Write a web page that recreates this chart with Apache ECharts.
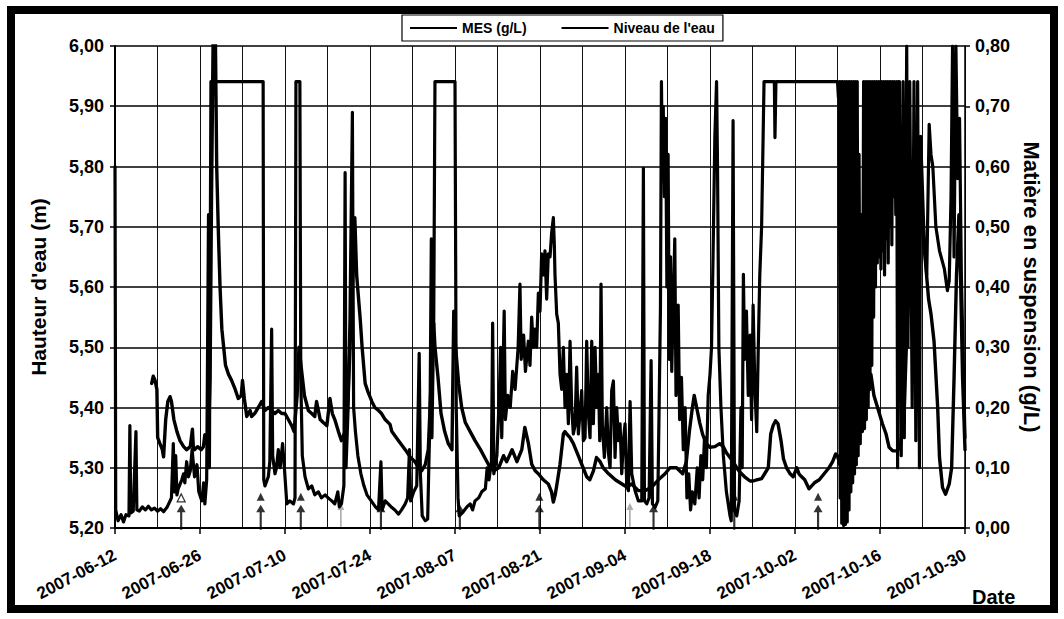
<!DOCTYPE html>
<html>
<head>
<meta charset="utf-8">
<title>MES et niveau de l'eau</title>
<script src="https://cdn.jsdelivr.net/npm/echarts@6/dist/echarts.min.js"></script>
<style>
  html, body { margin: 0; padding: 0; background: #fff; }
  #chart { width: 1064px; height: 619px; }
</style>
</head>
<body>
<div id="chart"></div>
<script>
// x values are days counted from 2007-06-12
const dateTicks = ['2007-06-12', '2007-06-26', '2007-07-10', '2007-07-24', '2007-08-07', '2007-08-21',
                   '2007-09-04', '2007-09-18', '2007-10-02', '2007-10-16', '2007-10-30'];

// Suspended matter, g/L  [day, value]
const mesJune = [[0,0.60],[0.12,0.03],[0.5,0.012],[1.0,0.022],[1.4,0.01],[1.8,0.022],[2.3,0.02],[2.45,0.17],[2.6,0.025],
  [3.0,0.028],[3.45,0.16],[3.6,0.03],[4.0,0.028],[4.5,0.035],[5.0,0.03],[5.5,0.036],[6.0,0.03],[6.5,0.033],[7.0,0.028],
  [7.5,0.032],[8.0,0.027],[8.6,0.035],[9.07,0.045],[9.3,0.05],[9.6,0.14],[9.8,0.06],[10.0,0.12],[10.2,0.055],[10.4,0.065],
  [11.0,0.08],[11.3,0.09],[11.5,0.075],[11.8,0.11],[12.1,0.085],[12.4,0.095],[12.7,0.13],[13.1,0.085],[13.5,0.105],
  [13.8,0.06],[14.3,0.045],[14.6,0.075],[14.8,0.04],[15.1,0.08],[15.4,0.52],[15.55,0.10],[15.8,0.741]];
const mesJuly = [[24.4,0.741],[24.5,0.08],[24.7,0.07],[25.25,0.085],[25.5,0.11],[25.8,0.33],[25.97,0.12],[26.35,0.09],
  [26.6,0.10],[26.9,0.13],[27.2,0.10],[27.6,0.14],[27.9,0.10],[28.3,0.04],[28.8,0.045],[29.4,0.04],[29.65,0.05],
  [29.8,0.741],[30.45,0.741],[30.6,0.25],[30.85,0.12],[31.3,0.085],[31.85,0.065],[32.4,0.07],[32.9,0.055],[33.5,0.06],
  [34.0,0.05],[34.6,0.055],[35.1,0.05],[35.7,0.045],[36.2,0.04],[36.7,0.06],[36.95,0.035],[37.3,0.04],[37.7,0.07],
  [37.9,0.59],[38.05,0.10],[38.4,0.20],[38.7,0.35],[38.9,0.52],[39.1,0.69],[39.3,0.20],[39.6,0.16],[40.0,0.12],
  [40.5,0.09],[41.0,0.07],[41.5,0.055],[42.2,0.045],[42.9,0.035],[43.4,0.03],[43.8,0.11],[44.0,0.03],[44.5,0.045],
  [45.0,0.04],[45.6,0.034],[46.1,0.03],[46.7,0.023],[47.2,0.03],[47.8,0.04],[48.2,0.05],[48.5,0.13],[48.7,0.045]];
const mesAugust = [[49.2,0.06],[49.7,0.07],[50.1,0.29],[50.3,0.09],[50.6,0.02],[51.1,0.012],[51.5,0.015],[51.9,0.20],
  [52.1,0.48],[52.2,0.15],[52.5,0.35],[52.7,0.741],[56.0,0.741],[56.2,0.20],[56.5,0.05],[56.7,0.02],[57.2,0.025],
  [57.96,0.035],[58.5,0.04],[58.9,0.03],[59.3,0.045],[59.9,0.05],[60.4,0.06],[61.0,0.065],[61.3,0.10],[61.6,0.08],
  [62.0,0.11],[62.2,0.34],[62.4,0.09],[62.9,0.12],[63.3,0.22],[63.5,0.30],[63.7,0.15],[64.1,0.36],[64.3,0.18],
  [64.7,0.22],[65.1,0.20],[65.5,0.26],[65.9,0.23],[66.4,0.30],[66.7,0.405],[66.9,0.28],[67.3,0.32],[67.6,0.26],
  [68.08,0.31],[68.35,0.27],[68.63,0.35],[68.9,0.30],[69.18,0.33],[69.45,0.30],[69.73,0.39],[70.0,0.36],[70.27,0.455],
  [70.55,0.42],[70.82,0.46],[71.1,0.38],[71.37,0.455],[71.65,0.45],[71.92,0.49],[72.2,0.515],[72.36,0.47],[72.47,0.42],
  [72.75,0.355],[73.02,0.34],[73.3,0.255],[73.57,0.23],[73.85,0.30],[74.12,0.20],[74.4,0.255],[74.67,0.173],
  [74.95,0.31],[75.22,0.20],[75.49,0.156],[75.77,0.17],[76.04,0.267],[76.32,0.156],[76.87,0.228],[77.14,0.145],
  [77.42,0.15],[77.69,0.31],[77.97,0.19],[78.24,0.15],[78.52,0.31],[78.79,0.173],[79.07,0.30],[79.34,0.20],
  [79.62,0.255],[79.84,0.145],[80.05,0.405],[80.27,0.17],[80.6,0.117]];
const mesSeptember = [[80.99,0.20],[81.26,0.125],[81.54,0.10],[81.81,0.228],[82.09,0.244],[82.36,0.117],[82.64,0.20],
  [82.91,0.145],[83.19,0.173],[83.46,0.09],[83.74,0.145],[84.01,0.173],[84.29,0.07],[84.56,0.062],[84.84,0.21],
  [85.11,0.09],[85.66,0.062],[86.21,0.045],[86.76,0.045],[87.03,0.597],[87.2,0.045],[87.58,0.04],[87.97,0.05],
  [88.3,0.278],[88.52,0.04],[88.96,0.034],[89.4,0.045],[89.62,0.20],[89.84,0.366],[90.0,0.741],[90.15,0.60],
  [90.3,0.70],[90.5,0.55],[90.7,0.68],[90.9,0.40],[91.1,0.62],[91.3,0.28],[91.5,0.45],[91.7,0.26],[91.9,0.35],
  [92.2,0.48],[92.4,0.22],[92.76,0.37],[93.0,0.18],[93.3,0.25],[93.6,0.13],[93.9,0.20],[94.2,0.05],[94.5,0.09],
  [94.8,0.03],[95.1,0.06],[95.5,0.04],[95.9,0.10],[96.2,0.05],[96.5,0.12],[96.8,0.08],[97.1,0.15],[97.4,0.10],
  [97.7,0.22],[98.0,0.255],[98.25,0.30],[98.5,0.45],[98.8,0.65],[99.08,0.741],[99.24,0.60],[99.46,0.30],[99.8,0.20],
  [100.2,0.12],[100.7,0.06],[101.3,0.02],[101.5,0.012],[101.8,0.676],[102.04,0.03],[102.4,0.02],[102.8,0.045],
  [103.1,0.20],[103.3,0.10],[103.5,0.421],[103.7,0.28],[104.0,0.36],[104.3,0.22],[104.6,0.32],[104.85,0.18],
  [105.1,0.37],[105.4,0.23],[105.7,0.16],[105.95,0.30],[106.2,0.42],[106.5,0.50],[106.7,0.62],[106.9,0.741],
  [108.6,0.741],[108.7,0.648],[108.86,0.741]];
const mesOctober = [[119.0,0.741],[119.15,0.715],[119.3,0.741],[119.44,0.05],[119.6,0.741],[119.7,0.008],[119.85,0.741],
  [120.0,0.004],[120.15,0.741],[120.3,0.006],[120.45,0.741],[120.6,0.01],[120.75,0.741],[120.9,0.03],[121.05,0.741],
  [121.2,0.06],[121.35,0.741],[121.5,0.075],[121.65,0.741],[121.8,0.09],[121.95,0.741],[122.1,0.105],[122.25,0.741],
  [122.4,0.12],[122.55,0.62],[122.75,0.14],[122.95,0.52],[123.1,0.16],[123.3,0.741],[123.45,0.165],[123.6,0.741],
  [123.75,0.18],[123.9,0.741],[124.05,0.20],[124.2,0.741],[124.35,0.23],[124.5,0.741],[124.65,0.27],[124.8,0.741],
  [124.95,0.35],[125.1,0.741],[125.25,0.40],[125.4,0.741],[125.55,0.44],[125.7,0.741],[125.85,0.45],[126.0,0.741],
  [126.15,0.43],[126.3,0.741],[126.45,0.46],[126.6,0.741],[126.75,0.42],[126.9,0.741],[127.05,0.48],[127.2,0.741],
  [127.35,0.44],[127.5,0.741],[127.65,0.50],[127.8,0.741],[127.95,0.47],[128.1,0.741],[128.25,0.55],[128.4,0.741],
  [128.6,0.52],[128.75,0.741],[128.9,0.10],[129.05,0.741],[129.2,0.741],[129.5,0.12],[129.8,0.741],[130.0,0.15],
  [130.4,0.80],[130.6,0.30],[130.9,0.741],[131.3,0.20],[131.6,0.741],[131.9,0.145],[132.2,0.741],[132.5,0.10],
  [132.7,0.65],[133.0,0.56],[133.3,0.47],[133.7,0.42],[134.1,0.67],[134.4,0.62],[134.7,0.60],[135.2,0.50],[135.8,0.46],
  [136.6,0.43],[137.1,0.394],[137.4,0.41],[137.7,0.55],[137.95,0.80],[138.2,0.45],[138.5,0.80],[138.8,0.58],
  [139.1,0.68],[139.4,0.42],[139.7,0.28],[140.0,0.15]];

// Water level, m  [day, value]
const levelJune = [[6.04,5.44],[6.3,5.452],[6.6,5.445],[6.9,5.43],[7.03,5.35],[7.4,5.34],[7.8,5.33],[8.0,5.318],
  [8.35,5.38],[8.7,5.41],[9.07,5.418],[9.3,5.41],[9.7,5.38],[10.2,5.36],[10.7,5.345],[11.3,5.335],[11.8,5.33],
  [12.4,5.335],[12.75,5.364],[12.9,5.335],[13.1,5.33],[13.6,5.335],[14.2,5.33],[14.56,5.335],[14.8,5.355],[15.1,5.34],
  [15.4,5.345],[15.66,5.45],[15.9,5.75],[16.2,6.05],[16.5,6.05],[16.75,5.80],[17.0,5.70],[17.3,5.60],[17.6,5.53],
  [17.9,5.50],[18.2,5.47],[18.7,5.455]];
const levelJuly = [[19.2,5.445],[19.8,5.43],[20.3,5.415],[20.8,5.42],[21.0,5.445],[21.3,5.415],[21.7,5.385],
  [22.25,5.395],[22.5,5.385],[23.0,5.39],[23.6,5.40],[24.15,5.41],[24.7,5.395],[25.25,5.40],[25.8,5.395],[26.35,5.39],
  [26.9,5.395],[27.45,5.39],[28.0,5.39],[28.55,5.38],[29.1,5.37],[29.5,5.36],[30.0,5.42],[30.3,5.50],[30.75,5.46],
  [31.2,5.42],[31.85,5.395],[32.4,5.39],[32.9,5.385],[33.2,5.41],[33.8,5.38],[34.3,5.375],[34.9,5.37],[35.4,5.415],
  [35.8,5.39],[36.2,5.38],[36.8,5.36],[37.3,5.345],[37.9,5.36],[38.4,5.42],[38.9,5.55],[39.3,5.65],[39.5,5.715],
  [39.8,5.62],[40.4,5.545],[40.7,5.50],[41.2,5.44],[41.7,5.425],[42.3,5.41],[42.8,5.40],[43.4,5.395],[43.9,5.39],
  [44.5,5.38],[45.3,5.372],[45.6,5.36],[46.7,5.345],[47.8,5.33],[48.6,5.318]];
const levelAugust = [[49.4,5.31],[50.0,5.30],[50.5,5.295],[51.1,5.305],[51.6,5.33],[52.1,5.45],[52.5,5.54],[52.7,5.50],
  [53.2,5.45],[53.7,5.39],[54.3,5.36],[54.9,5.34],[55.5,5.33],[55.8,5.56],[56.1,5.50],[56.6,5.44],[57.1,5.40],
  [57.7,5.375],[58.5,5.36],[59.3,5.345],[60.2,5.33],[61.0,5.315],[61.8,5.30],[62.4,5.295],[63.2,5.30],[64.0,5.32],
  [64.5,5.31],[65.4,5.33],[66.2,5.31],[67.0,5.33],[67.5,5.367],[68.1,5.34],[68.63,5.306],[69.2,5.295],[69.73,5.29],
  [70.55,5.28],[71.37,5.273],[71.9,5.26],[72.2,5.243],[72.5,5.255],[72.75,5.27],[73.3,5.306],[73.85,5.356],
  [74.1,5.36],[74.4,5.356],[74.95,5.35],[75.5,5.34],[76.3,5.32],[77.1,5.30],[77.7,5.285],[78.2,5.28],[78.8,5.295],
  [79.3,5.317],[79.9,5.31],[80.4,5.30]];
const levelSeptember = [[81.3,5.29],[82.4,5.28],[83.5,5.273],[84.3,5.268],[85.1,5.273],[86.2,5.262],[87.3,5.262],
  [88.4,5.268],[89.5,5.28],[90.6,5.29],[91.4,5.30],[92.5,5.30],[93.5,5.29],[94.1,5.31],[94.6,5.36],[95.1,5.40],
  [95.4,5.42],[95.8,5.40],[96.3,5.375],[96.8,5.355],[97.4,5.34],[97.98,5.334],[98.8,5.335],[99.6,5.34],[100.2,5.335],
  [100.7,5.325],[101.3,5.317],[101.8,5.31],[102.4,5.30],[102.9,5.293],[103.7,5.285],[104.6,5.278],[105.1,5.278],
  [105.7,5.28],[106.5,5.282],[107.0,5.29],[107.6,5.30],[108.0,5.356],[108.4,5.37],[108.8,5.378],[109.2,5.373],
  [109.7,5.345],[110.1,5.315]];
const levelOctober = [[110.6,5.30],[111.2,5.29],[111.7,5.285],[112.3,5.30],[112.65,5.29],[113.1,5.285],[113.6,5.28],
  [114.3,5.265],[115.2,5.275],[116.0,5.28],[116.8,5.29],[117.6,5.30],[118.2,5.31],[118.7,5.323],[119.0,5.32],
  [119.4,5.305],[120.1,5.30],[120.9,5.31],[121.75,5.33],[122.3,5.35],[122.85,5.37],[123.4,5.39],[123.9,5.42],
  [124.5,5.455],[125.0,5.42],[125.6,5.40],[126.4,5.373],[127.0,5.356],[127.5,5.334],[128.1,5.328],[128.9,5.328],
  [129.4,5.34],[129.7,5.373],[130.0,5.40],[130.5,5.55],[131.0,5.70],[131.5,5.80],[132.0,5.84],[132.5,5.78],
  [133.0,5.70],[133.5,5.64],[134.0,5.58],[134.4,5.555],[134.9,5.51],[135.5,5.40],[135.8,5.317],[136.3,5.267],
  [136.8,5.256],[137.4,5.273],[137.8,5.30],[138.2,5.45],[138.6,5.62],[139.0,5.72],[139.3,5.60],[139.6,5.45],[140.0,5.33]];

// Sampling marks drawn along the bottom of the plot (days)
const sampleArrowDays = [10.9, 24.0, 30.6, 43.8, 56.8, 69.9, 88.7, 102.0, 115.8];
const faintArrowDays = [37.2, 84.8];
const filledMarkDays = [24.0, 30.6, 69.9, 102.0, 115.8];
const hollowMarkDays = [10.9];

const FONT = '"Liberation Sans", Arial, Helvetica, sans-serif';
const comma2 = v => v.toFixed(2).replace('.', ',');

const mesData = [].concat(mesJune, mesJuly, mesAugust, mesSeptember, mesOctober);
const levelData = [].concat(levelJune, levelJuly, levelAugust, levelSeptember, levelOctober);

const arrowPath = 'path://M5,0 L10,9 L6.2,9 L6.2,30 L3.8,30 L3.8,9 L0,9 Z';

const chart = echarts.init(document.getElementById('chart'), null, { renderer: 'svg' });
chart.setOption({
  animation: false,
  backgroundColor: '#fff',
  textStyle: { fontFamily: FONT, color: '#000' },
  grid: { left: 115, right: 99, top: 46, bottom: 91, containLabel: false },
  legend: {
    data: ['MES (g/L)', "Niveau de l'eau"],
    left: 402, top: 15,
    padding: [6, 8, 6, 8],
    itemGap: 35,
    itemWidth: 47, itemHeight: 2,
    icon: 'rect',
    backgroundColor: '#fff',
    borderColor: '#000', borderWidth: 1.2, borderRadius: 0,
    textStyle: { fontFamily: FONT, fontSize: 14, fontWeight: 'bold', color: '#000' }
  },
  xAxis: {
    type: 'value', min: 0, max: 140, interval: 14,
    axisLine: { lineStyle: { color: '#000', width: 2 } },
    axisTick: { show: true, length: 6, lineStyle: { color: '#000', width: 1.5 } },
    axisLabel: {
      formatter: v => dateTicks[Math.round(v / 14)] || '',
      rotate: 28, fontSize: 17, fontWeight: 'bold', color: '#000', margin: 26, fontFamily: FONT
    },
    splitLine: { show: true, lineStyle: { color: '#111', width: 1 } },
    minorTick: { show: false, splitNumber: 2 },
    minorSplitLine: { show: true, lineStyle: { color: '#111', width: 1 } }
  },
  yAxis: [
    {
      type: 'value', min: 5.2, max: 6.0, interval: 0.1, position: 'left',
      name: "Hauteur d'eau (m)", nameLocation: 'middle', nameGap: 66, nameRotate: 90,
      nameTextStyle: { fontFamily: FONT, fontSize: 21, fontWeight: 'bold', color: '#000' },
      axisLine: { show: true, lineStyle: { color: '#000', width: 2 } },
      axisTick: { show: true, length: 5, lineStyle: { color: '#000', width: 1.5 } },
      axisLabel: { formatter: comma2, fontSize: 18, fontWeight: 'bold', color: '#000', margin: 11, fontFamily: FONT },
      splitLine: { show: true, lineStyle: { color: '#000', width: 1.6 } }
    },
    {
      type: 'value', min: 0, max: 0.8, interval: 0.1, position: 'right',
      name: 'Matière en suspension (g/L)', nameLocation: 'middle', nameGap: 52, nameRotate: -90,
      nameTextStyle: { fontFamily: FONT, fontSize: 22, fontWeight: 'bold', color: '#000' },
      axisLine: { show: true, lineStyle: { color: '#000', width: 1.5 } },
      axisTick: { show: true, length: 5, lineStyle: { color: '#000', width: 1.5 } },
      axisLabel: { formatter: comma2, fontSize: 18, fontWeight: 'bold', color: '#000', margin: 10, fontFamily: FONT },
      splitLine: { show: false }
    }
  ],
  series: [
    {
      name: 'MES (g/L)', type: 'line', yAxisIndex: 1, data: mesData,
      showSymbol: false, symbol: 'none', clip: true,
      color: '#000',
      lineStyle: { color: '#000', width: 3.2, join: 'round', cap: 'round' },
      z: 3
    },
    {
      name: "Niveau de l'eau", type: 'line', yAxisIndex: 0, data: levelData,
      showSymbol: false, symbol: 'none', clip: true,
      color: '#000',
      lineStyle: { color: '#000', width: 3.4, join: 'round', cap: 'round' },
      z: 3
    },
    {
      type: 'scatter', yAxisIndex: 0, silent: true, z: 2,
      data: sampleArrowDays.map(d => [d, 5.218]),
      symbol: arrowPath, symbolSize: [9, 25],
      itemStyle: { color: '#000' }
    },
    {
      type: 'scatter', yAxisIndex: 0, silent: true, z: 2,
      data: faintArrowDays.map(d => [d, 5.222]),
      symbol: arrowPath, symbolSize: [7, 24],
      itemStyle: { color: '#9a9a9a' }
    },
    {
      type: 'scatter', yAxisIndex: 0, silent: true, z: 2,
      data: filledMarkDays.map(d => [d, 5.252]),
      symbol: 'triangle', symbolSize: 8,
      itemStyle: { color: '#000' }
    },
    {
      type: 'scatter', yAxisIndex: 0, silent: true, z: 2,
      data: hollowMarkDays.map(d => [d, 5.25]),
      symbol: 'triangle', symbolSize: 8,
      itemStyle: { color: '#fff', borderColor: '#000', borderWidth: 1.2 }
    }
  ],
  graphic: [
    {
      type: 'rect', z: 100, silent: true,
      shape: { x: 11, y: 10, width: 1043, height: 599 },
      style: { fill: 'none', stroke: '#000', lineWidth: 8 }
    },
    {
      type: 'text', left: 972, top: 587, z: 100, silent: true,
      style: { text: 'Date', font: 'bold 20px ' + FONT, fill: '#000' }
    }
  ]
});
</script>
</body>
</html>
